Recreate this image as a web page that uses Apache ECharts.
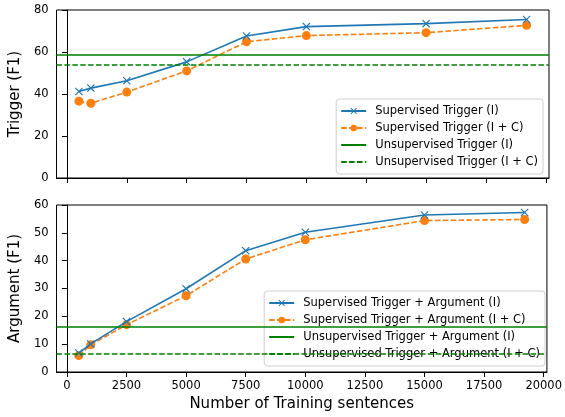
<!DOCTYPE html>
<html>
<head>
<meta charset="utf-8">
<script src="https://cdn.jsdelivr.net/npm/echarts@6/dist/echarts.min.js"></script>
<style>html,body{margin:0;padding:0;background:#fff;}#c{width:565px;height:417px;}</style>
</head>
<body>
<div id="c"></div>
<script>
const trainSizes = [500, 1000, 2500, 5000, 7500, 10000, 15000, 19200];
const supTriggerI = [41.2, 42.8, 46.3, 55.3, 67.6, 72.1, 73.5, 75.5];
const supTriggerIC = [36.6, 35.6, 40.9, 51.0, 64.9, 67.8, 69.2, 72.7];
const unsupTriggerI = 58.6;
const unsupTriggerIC = 53.7;
const supArgI = [6.8, 10.1, 18.1, 29.9, 43.6, 50.2, 56.4, 57.3];
const supArgIC = [5.9, 9.75, 17.0, 27.4, 40.6, 47.5, 54.4, 54.8];
const unsupArgI = 16.3;
const unsupArgIC = 6.6;
const xTicks = [0, 2500, 5000, 7500, 10000, 12500, 15000, 17500, 20000];

const BLUE = '#1f77b4', ORANGE = '#ff7f0e', GREEN = '#008000';
const FONT = 'DejaVu Sans';
const XSYM = 'path://M1,0 L5,4 L9,0 L10,1 L6,5 L10,9 L9,10 L5,6 L1,10 L0,9 L4,5 L0,1 Z';
const dash = [5.5, 2.4];

function pairs(ys) { return trainSizes.map((x, i) => [x, ys[i]]); }

function xAxis(gi, showLabels, name) {
  return {
    type: 'value', gridIndex: gi, min: -435, max: 20135,
    splitLine: { show: false },
    axisLine: { show: true, onZero: false, lineStyle: { color: '#000', width: 1 } },
    axisTick: { show: true, length: 5, customValues: xTicks, lineStyle: { color: '#000' } },
    axisLabel: { show: showLabels, customValues: xTicks, formatter: v => String(v), margin: 8, fontFamily: FONT, fontSize: 11.5, color: '#000' },
    name: name || '', nameLocation: 'middle', nameGap: 25,
    nameTextStyle: { fontFamily: FONT, fontSize: 15, color: '#000' }
  };
}
function yAxis(gi, max, interval, name) {
  return {
    type: 'value', gridIndex: gi, min: 0, max: max, interval: interval,
    splitLine: { show: false },
    axisLine: { show: true, lineStyle: { color: '#000', width: 1 } },
    axisTick: { show: true, length: 5, lineStyle: { color: '#000' } },
    axisLabel: { margin: 8, fontFamily: FONT, fontSize: 11.5, color: '#000' },
    name: name, nameLocation: 'middle', nameGap: 32,
    nameTextStyle: { fontFamily: FONT, fontSize: 15, color: '#000' }
  };
}
function supSeries(name, gi, ys, isX) {
  return {
    name: name, type: 'line', xAxisIndex: gi, yAxisIndex: gi,
    data: pairs(ys),
    symbol: isX ? XSYM : 'circle', symbolSize: isX ? 8 : 9,
    showSymbol: true,
    itemStyle: { color: isX ? BLUE : ORANGE },
    lineStyle: { color: isX ? BLUE : ORANGE, width: 1.6, type: isX ? 'solid' : dash },
    z: isX ? 4 : 3, animation: false
  };
}
function unsupSeries(name, gi, val, dashed) {
  return {
    name: name, type: 'line', xAxisIndex: gi, yAxisIndex: gi, data: [],
    symbol: 'none',
    itemStyle: { color: GREEN },
    lineStyle: { color: GREEN, width: 1.6, type: dashed ? dash : 'solid' },
    markLine: {
      silent: true, symbol: ['none', 'none'], label: { show: false },
      lineStyle: { color: GREEN, width: 1.6, type: dashed ? dash : 'solid' },
      data: [{ yAxis: val }], animation: false
    },
    z: 2, animation: false
  };
}
function legendItems(names) {
  return names.map((n, i) => i < 2 ? { name: n } : { name: n, itemStyle: { opacity: 0 } });
}
const legendCommon = {
  orient: 'vertical', itemWidth: 25, itemHeight: 8, itemGap: 5,
  padding: [6, 5, 6, 4], borderColor: '#d0d0d0', borderWidth: 1, borderRadius: 3,
  backgroundColor: 'rgba(255,255,255,0.8)',
  textStyle: { fontFamily: FONT, fontSize: 11.5, color: '#000', padding: [0, 0, 0, 4] }
};

const chart = echarts.init(document.getElementById('c'), null, { renderer: 'canvas' });
chart.setOption({
  animation: false,
  backgroundColor: '#fff',
  grid: [
    { left: 56, right: 16, top: 10, height: 168, show: true, borderColor: '#000', borderWidth: 1, backgroundColor: 'transparent' },
    { left: 56, right: 16, top: 205, height: 167, show: true, borderColor: '#000', borderWidth: 1, backgroundColor: 'transparent' }
  ],
  xAxis: [xAxis(0, false), xAxis(1, true, 'Number of Training sentences')],
  yAxis: [yAxis(0, 80, 20, 'Trigger (F1)'), yAxis(1, 60, 10, 'Argument (F1)')],
  legend: [
    Object.assign({}, legendCommon, {
      right: 22, bottom: 243,
      data: legendItems(['Supervised Trigger (I)', 'Supervised Trigger (I + C)', 'Unsupervised Trigger (I)', 'Unsupervised Trigger (I + C)'])
    }),
    Object.assign({}, legendCommon, {
      right: 20, bottom: 51,
      data: legendItems(['Supervised Trigger + Argument (I)', 'Supervised Trigger + Argument (I + C)', 'Unsupervised Trigger + Argument (I)', 'Unsupervised Trigger + Argument (I + C)'])
    })
  ],
  series: [
    supSeries('Supervised Trigger (I)', 0, supTriggerI, true),
    supSeries('Supervised Trigger (I + C)', 0, supTriggerIC, false),
    unsupSeries('Unsupervised Trigger (I)', 0, unsupTriggerI, false),
    unsupSeries('Unsupervised Trigger (I + C)', 0, unsupTriggerIC, true),
    supSeries('Supervised Trigger + Argument (I)', 1, supArgI, true),
    supSeries('Supervised Trigger + Argument (I + C)', 1, supArgIC, false),
    unsupSeries('Unsupervised Trigger + Argument (I)', 1, unsupArgI, false),
    unsupSeries('Unsupervised Trigger + Argument (I + C)', 1, unsupArgIC, true)
  ]
});
</script>
</body>
</html>
